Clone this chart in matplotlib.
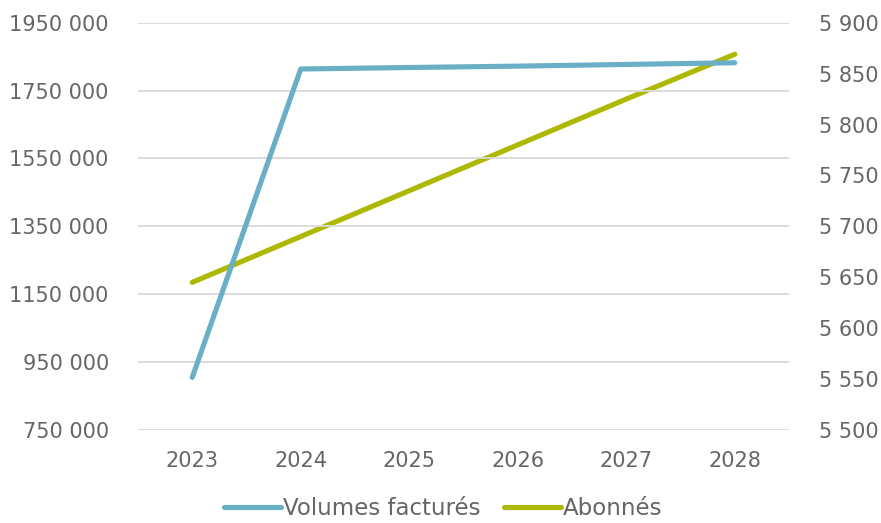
import matplotlib.pyplot as plt
from matplotlib.ticker import FixedLocator, FixedFormatter

# Data
years = ['2023', '2024', '2025', '2026', '2027', '2028']
volumes = [905000, 1813600, 1818000, 1822000, 1827000, 1832000]
abonnes = [5645, 5690, 5735, 5780, 5825, 5869]

left_ticks = [750000, 950000, 1150000, 1350000, 1550000, 1750000, 1950000]
left_labels = ['750 000', '950 000', '1150 000', '1350 000', '1550 000', '1750 000', '1950 000']
right_ticks = [5500, 5550, 5600, 5650, 5700, 5750, 5800, 5850, 5900]
right_labels = ['5 500', '5 550', '5 600', '5 650', '5 700', '5 750', '5 800', '5 850', '5 900']

BLUE = '#6AAFC6'
GREEN = '#ADB900'
TEXT = '#666666'
GRID = '#D9D9D9'

plt.rcParams['font.family'] = ['DejaVu Sans']

fig = plt.figure(figsize=(8.81, 5.23), dpi=100)
ax = fig.add_axes([0.1566, 0.1778, 0.739, 0.7788])
ax2 = ax.twinx()

x = range(len(years))
l1, = ax.plot(x, volumes, color=BLUE, lw=3.7, solid_capstyle='round',
              solid_joinstyle='round', label='Volumes facturés', zorder=3)
l2, = ax2.plot(x, abonnes, color=GREEN, lw=3.7, solid_capstyle='round',
               solid_joinstyle='round', label='Abonnés', zorder=3)

ax.set_xlim(-0.5, len(years) - 0.5)
ax.set_ylim(750000, 1950000)
ax2.set_ylim(5500, 5900)

ax.yaxis.set_major_locator(FixedLocator(left_ticks))
ax.yaxis.set_major_formatter(FixedFormatter(left_labels))
ax2.yaxis.set_major_locator(FixedLocator(right_ticks))
ax2.yaxis.set_major_formatter(FixedFormatter(right_labels))
ax.set_xticks(list(x))
ax.set_xticklabels(years)

ax.grid(axis='y', color=GRID, lw=1.3)
ax.set_axisbelow(True)
for a in (ax, ax2):
    for s in a.spines.values():
        s.set_visible(False)
    a.tick_params(length=0, labelsize=15, colors=TEXT)
ax.tick_params(axis='y', pad=21)
ax2.tick_params(axis='y', pad=21.5)
ax.tick_params(axis='x', pad=15)

# keep blue line drawn above green axis
ax.set_zorder(ax2.get_zorder() + 1)
ax.patch.set_visible(False)

fig.legend(handles=[l1, l2], loc='lower center', bbox_to_anchor=(0.503, -0.034),
           ncol=2, frameon=False, fontsize=16.5, labelcolor=TEXT,
           handlelength=2.5, handletextpad=0.1, columnspacing=1.0)

fig.savefig('out.png', dpi=100)
